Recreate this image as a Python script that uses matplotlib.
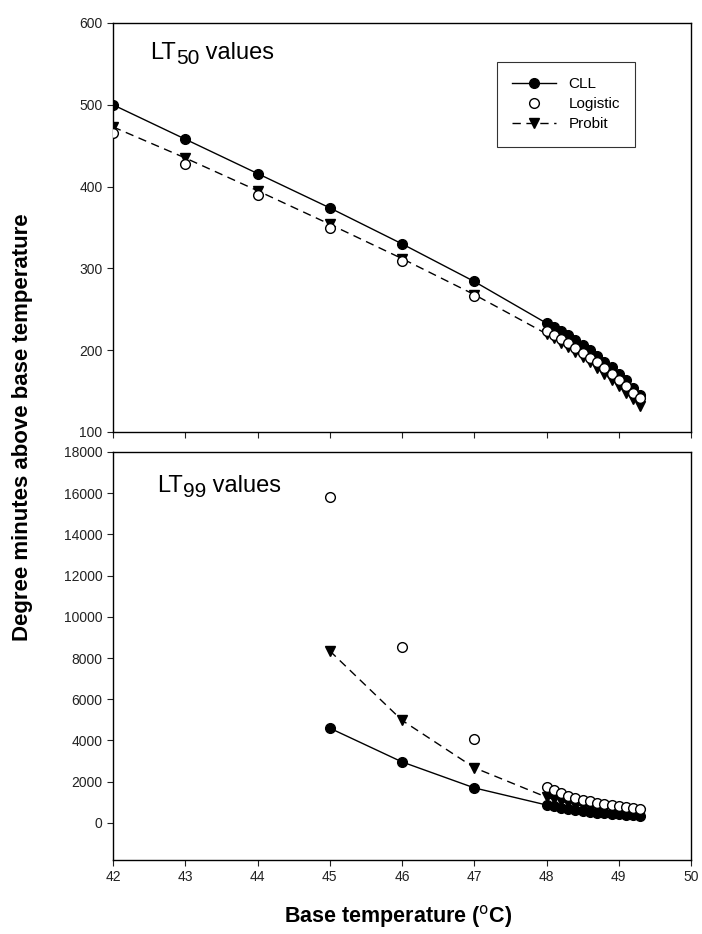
import numpy as np
import matplotlib.pyplot as plt

plt.rcParams['font.family'] = ['Liberation Sans', 'DejaVu Sans']

# base temperatures
temp_main = [42, 43, 44, 45, 46, 47]
temp_fine = [48.0, 48.1, 48.2, 48.3, 48.4, 48.5, 48.6, 48.7, 48.8, 48.9, 49.0, 49.1, 49.2, 49.3]

# LT50 (degree minutes)
lt50_cll = [500, 458, 416, 374, 330, 284,
            233, 228, 223, 218, 212, 206, 200, 193, 186, 179, 171, 163, 154, 145]
lt50_logit = [466, 428, 390, 350, 309, 266,
              224, 219, 214, 209, 203, 197, 191, 185, 178, 171, 164, 156, 148, 141]
lt50_probit = [473, 435, 395, 354, 312, 268,
               220, 215, 209, 204, 198, 192, 185, 178, 171, 164, 156, 148, 140, 132]

# LT99 (degree minutes), only from 45 C
temp_99 = [45, 46, 47]
lt99_cll = [4600, 2960, 1700,
            870, 800, 740, 680, 630, 580, 540, 500, 470, 440, 410, 380, 360, 340]
lt99_logit = [15800, 8550, 4080,
              1750, 1580, 1450, 1330, 1220, 1130, 1050, 980, 920, 860, 810, 760, 720, 690]
lt99_probit = [8350, 4980, 2680,
               1250, 1140, 1050, 960, 890, 820, 760, 710, 660, 620, 580, 540, 510, 480]

x50 = temp_main + temp_fine
x99 = temp_99 + temp_fine

fig = plt.figure(figsize=(7.02, 9.34), dpi=100)
ax1 = fig.add_axes([113/702, 1-432/934, 578/702, 409/934])
ax2 = fig.add_axes([113/702, 1-860/934, 578/702, 408/934])

ms = 7
for ax, x, c, l, p in [(ax1, x50, lt50_cll, lt50_logit, lt50_probit),
                       (ax2, x99, lt99_cll, lt99_logit, lt99_probit)]:
    ax.plot(x, c, '-', color='k', lw=1, marker='o', ms=ms, mfc='k', label='CLL', zorder=3)
    ax.plot(x, l, ls='none', marker='o', ms=ms, mfc='white', mec='k', mew=1, label='Logistic', zorder=4)
    ax.plot(x, p, '--', color='k', lw=1, dashes=(6, 4), marker='v', ms=ms, mfc='k', label='Probit', zorder=2)
    ax.set_xlim(42, 50)
    ax.tick_params(direction='out', length=4, width=0.8, labelsize=10, colors='#222222')
    for s in ax.spines.values():
        s.set_linewidth(1)

ax1.set_ylim(100, 600)
ax1.set_yticks([100, 200, 300, 400, 500, 600])
ax1.set_xticks(range(42, 51))
ax1.tick_params(axis='x', labelbottom=False)
leg = ax1.legend(loc='upper left', bbox_to_anchor=(0.664, 0.905), borderaxespad=0, frameon=True,
                 fancybox=False, edgecolor='k', fontsize=11, handlelength=2.9, handletextpad=0.8,
                 borderpad=1.0, labelspacing=0.4)
leg.get_frame().set_linewidth(0.8)

ax2.set_ylim(-1800, 18000)
ax2.set_yticks(range(0, 18001, 2000))
ax2.set_xticks(range(42, 51))


def panel_title(ax, x_px, base_px, sub):
    # "LT" + larger-than-mathtext subscript + " values"
    fx, fy = x_px/702, 1-base_px/934
    t1 = fig.text(fx, fy, 'LT', fontsize=17, va='baseline')
    fig.canvas.draw()
    w1 = t1.get_window_extent().width/702
    t2 = fig.text(fx+w1, fy-5/934, sub, fontsize=15, va='baseline')
    fig.canvas.draw()
    w2 = t2.get_window_extent().width/702
    fig.text(fx+w1+w2, fy, ' values', fontsize=17, va='baseline')


panel_title(ax1, 150, 59, '50')
panel_title(ax2, 157, 492, '99')

fig.text(23/702, 1-427/934, 'Degree minutes above base temperature', rotation=90,
         ha='center', va='center', fontsize=16, fontweight='bold')
fig.text(398/702, 1-916/934, 'Base temperature ($^{\\mathrm{o}}$C)', ha='center', va='center',
         fontsize=15.5, fontweight='bold')

fig.savefig('out.png', dpi=100)
